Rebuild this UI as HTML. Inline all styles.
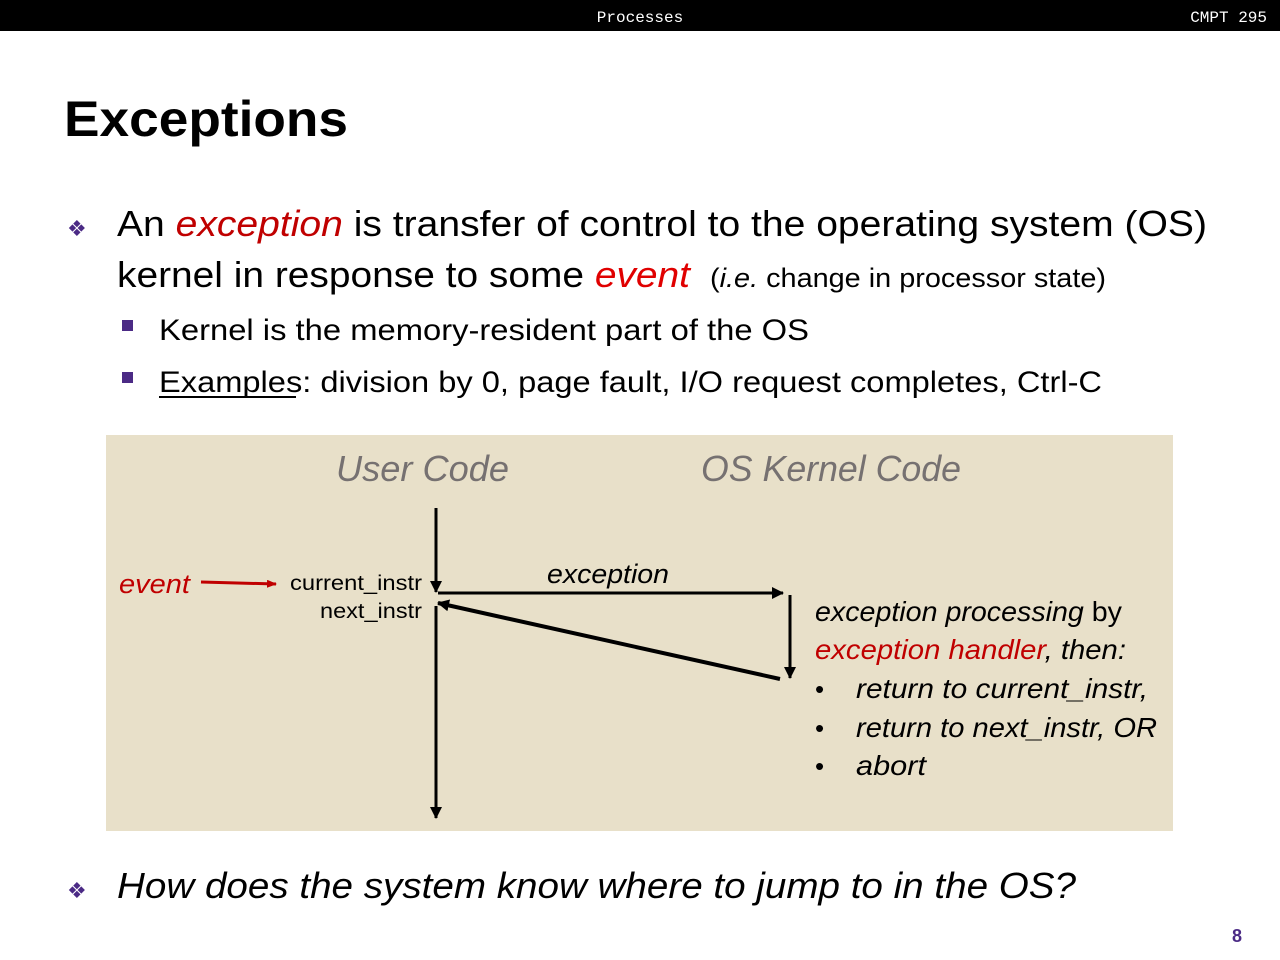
<!DOCTYPE html>
<html><head><meta charset="utf-8"><style>
html,body{margin:0;padding:0;background:#fff}
svg{display:block}
text{font-family:"Liberation Sans",sans-serif}
</style></head><body>
<svg width="1280" height="960" viewBox="0 0 1280 960" xmlns="http://www.w3.org/2000/svg">
<rect x="0" y="0" width="1280" height="31" fill="#000"/>
<text x="640" y="22" fill="#fff" font-size="16" text-anchor="middle" style="font-family:'Liberation Mono',monospace">Processes</text>
<text x="1267" y="22" fill="#fff" font-size="16" text-anchor="end" style="font-family:'Liberation Mono',monospace">CMPT 295</text>

<text x="64" y="136" font-size="50" font-weight="bold" textLength="284" lengthAdjust="spacingAndGlyphs">Exceptions</text>

<text x="67" y="236" font-size="22" fill="#4b2a85">❖</text>
<text x="117" y="236" font-size="36" textLength="1090" lengthAdjust="spacingAndGlyphs">An <tspan fill="#c00000" font-style="italic">exception</tspan> is transfer of control to the operating system (OS)</text>
<text x="117" y="287" font-size="36" textLength="573" lengthAdjust="spacingAndGlyphs">kernel in response to some <tspan fill="#e00000" font-style="italic">event</tspan></text>
<text x="710" y="287" font-size="27" textLength="396" lengthAdjust="spacingAndGlyphs">(<tspan font-style="italic">i.e.</tspan> change in processor state)</text>

<rect x="122" y="320" width="11" height="11" fill="#4b2a85"/>
<text x="159" y="340" font-size="30" textLength="650" lengthAdjust="spacingAndGlyphs">Kernel is the memory-resident part of the OS</text>
<rect x="122" y="372" width="11" height="11" fill="#4b2a85"/>
<text x="159" y="392" font-size="30" textLength="943" lengthAdjust="spacingAndGlyphs">Examples:  division by 0, page fault, I/O request completes, Ctrl-C</text>
<line x1="159" y1="397" x2="296" y2="397" stroke="#000" stroke-width="2"/>

<rect x="106" y="435" width="1067" height="396" fill="#e8e0c9"/>
<text x="336" y="481" font-size="36" font-style="italic" fill="#767171" textLength="173" lengthAdjust="spacingAndGlyphs">User Code</text>
<text x="701" y="481" font-size="36" font-style="italic" fill="#767171" textLength="260" lengthAdjust="spacingAndGlyphs">OS Kernel Code</text>

<defs>
<marker id="ar" markerWidth="10" markerHeight="8" refX="9" refY="4" orient="auto" markerUnits="userSpaceOnUse"><path d="M0,0 L10,4 L0,8 z" fill="#c00000"/></marker>
<marker id="ab" markerWidth="12" markerHeight="12" refX="11" refY="6" orient="auto" markerUnits="userSpaceOnUse"><path d="M0,0 L12,6 L0,12 z" fill="#000"/></marker>
</defs>
<text x="119" y="593" font-size="27" font-style="italic" fill="#c00000" textLength="71" lengthAdjust="spacingAndGlyphs">event</text>
<line x1="201" y1="582" x2="276" y2="584" stroke="#c00000" stroke-width="3" marker-end="url(#ar)"/>
<text x="422" y="590" font-size="21" text-anchor="end" textLength="132" lengthAdjust="spacingAndGlyphs">current_instr</text>
<text x="422" y="618" font-size="21" text-anchor="end" textLength="102" lengthAdjust="spacingAndGlyphs">next_instr</text>
<line x1="436" y1="508" x2="436" y2="592" stroke="#000" stroke-width="3" marker-end="url(#ab)"/>
<line x1="436" y1="606" x2="436" y2="818" stroke="#000" stroke-width="3" marker-end="url(#ab)"/>
<line x1="438" y1="593" x2="783" y2="593" stroke="#000" stroke-width="3" marker-end="url(#ab)"/>
<text x="547" y="583" font-size="27" font-style="italic" textLength="122" lengthAdjust="spacingAndGlyphs">exception</text>
<line x1="790" y1="595" x2="790" y2="678" stroke="#000" stroke-width="3" marker-end="url(#ab)"/>
<line x1="780" y1="679" x2="438" y2="603" stroke="#000" stroke-width="4" marker-end="url(#ab)"/>

<text x="815" y="621" font-size="28" textLength="307" lengthAdjust="spacingAndGlyphs"><tspan font-style="italic">exception processing</tspan> by</text>
<text x="815" y="659" font-size="28" font-style="italic" textLength="311" lengthAdjust="spacingAndGlyphs"><tspan fill="#c00000">exception handler</tspan>, then:</text>
<text x="815" y="698" font-size="26">•</text>
<text x="856" y="698" font-size="28" font-style="italic" textLength="292" lengthAdjust="spacingAndGlyphs">return to current_instr,</text>
<text x="815" y="737" font-size="26">•</text>
<text x="856" y="737" font-size="28" font-style="italic" textLength="301" lengthAdjust="spacingAndGlyphs">return to next_instr, OR</text>
<text x="815" y="775" font-size="26">•</text>
<text x="856" y="775" font-size="28" font-style="italic" textLength="70" lengthAdjust="spacingAndGlyphs">abort</text>

<text x="67" y="898" font-size="22" fill="#4b2a85">❖</text>
<text x="117" y="898" font-size="36" font-style="italic" textLength="959" lengthAdjust="spacingAndGlyphs">How does the system know where to jump to in the OS?</text>
<text x="1242" y="942" font-size="18" font-weight="bold" fill="#4b2a85" text-anchor="end">8</text>
</svg>
</body></html>
